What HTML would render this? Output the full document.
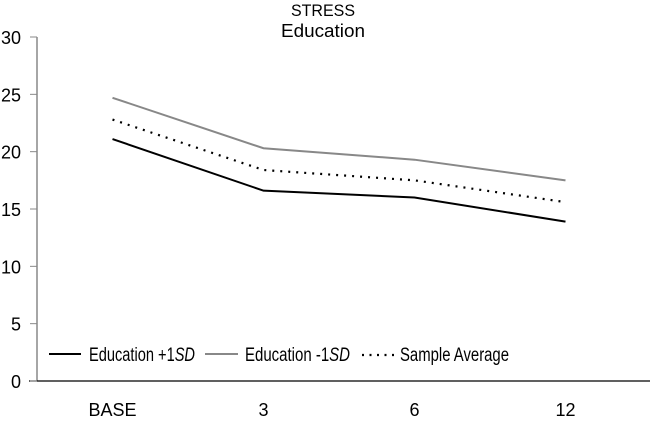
<!DOCTYPE html>
<html><head><meta charset="utf-8"><style>
body{margin:0;background:#fff;width:650px;height:417px;overflow:hidden}
svg{font-family:"Liberation Sans",sans-serif}
</style></head><body>
<svg id="chart" width="650" height="417">
<text x="323" y="16" text-anchor="middle" font-size="17" textLength="64" lengthAdjust="spacingAndGlyphs">STRESS</text>
<text x="323" y="37" text-anchor="middle" font-size="18" textLength="84" lengthAdjust="spacingAndGlyphs">Education</text>
<g id="axes"></g><g id="series"></g>
<g>
<line x1="49" y1="354" x2="81" y2="354" stroke="#000" stroke-width="2"/>
<text x="89" y="361" font-size="19" textLength="106" lengthAdjust="spacingAndGlyphs">Education +1<tspan font-style="italic">SD</tspan></text>
<line x1="205" y1="354" x2="238" y2="354" stroke="#888" stroke-width="2"/>
<text x="245" y="361" font-size="19" textLength="105" lengthAdjust="spacingAndGlyphs">Education -1<tspan font-style="italic">SD</tspan></text>
<line x1="362" y1="355" x2="394" y2="355" stroke="#000" stroke-width="2.2" stroke-dasharray="2,5.5"/>
<text x="400" y="361" font-size="19" textLength="109" lengthAdjust="spacingAndGlyphs">Sample Average</text>
</g>
</svg>
<script>
const categories=["BASE","3","6","12"];
const plusSD=[21.1,16.6,16.0,13.9];
const minusSD=[24.7,20.3,19.3,17.5];
const average=[22.8,18.4,17.5,15.6];
const yTicks=[0,5,10,15,20,25,30];
const NS="http://www.w3.org/2000/svg";
const x0=37,bw=151,yb=381,yt=37;
const xs=i=>x0+bw*(i+0.5);
const ys=v=>yb-(v/30)*(yb-yt);
function mk(t,a,p){const e=document.createElementNS(NS,t);for(const k in a)e.setAttribute(k,a[k]);p.appendChild(e);return e;}
const ax=document.getElementById('axes');
let l=mk('line',{x1:x0,y1:yt,x2:x0,y2:yb,stroke:'#888','stroke-width':1.5},ax);


l=mk('line',{x1:x0-8,y1:yb,x2:650,y2:yb,stroke:'#000','stroke-width':1.2},ax);


yTicks.forEach(v=>{
 const t=mk('line',{x1:x0-7,y1:ys(v),x2:x0,y2:ys(v),stroke:'#888','stroke-width':1},ax);
 
 
 const tx=mk('text',{x:21,y:ys(v)+7,'text-anchor':'end','font-size':18},ax);
 tx.textContent=v;
 
 
});
categories.forEach((c,i)=>{
 const tx=mk('text',{x:xs(i),y:416,'text-anchor':'middle','font-size':18},ax);
 tx.textContent=c;
 
 
});
const sg=document.getElementById('series');
function line(d,st,w,dash,name){
 const p=mk('polyline',{points:d.map((v,i)=>xs(i)+','+ys(v)).join(' '),fill:'none',stroke:st,'stroke-width':w},sg);
 if(dash)p.setAttribute('stroke-dasharray',dash);
 
 
}
line(minusSD,'#888',2,null,'line-education-minus-1sd');
line(average,'#000',2.2,'2,6','line-sample-average');
line(plusSD,'#000',2,null,'line-education-plus-1sd');
</script>
</body></html>
